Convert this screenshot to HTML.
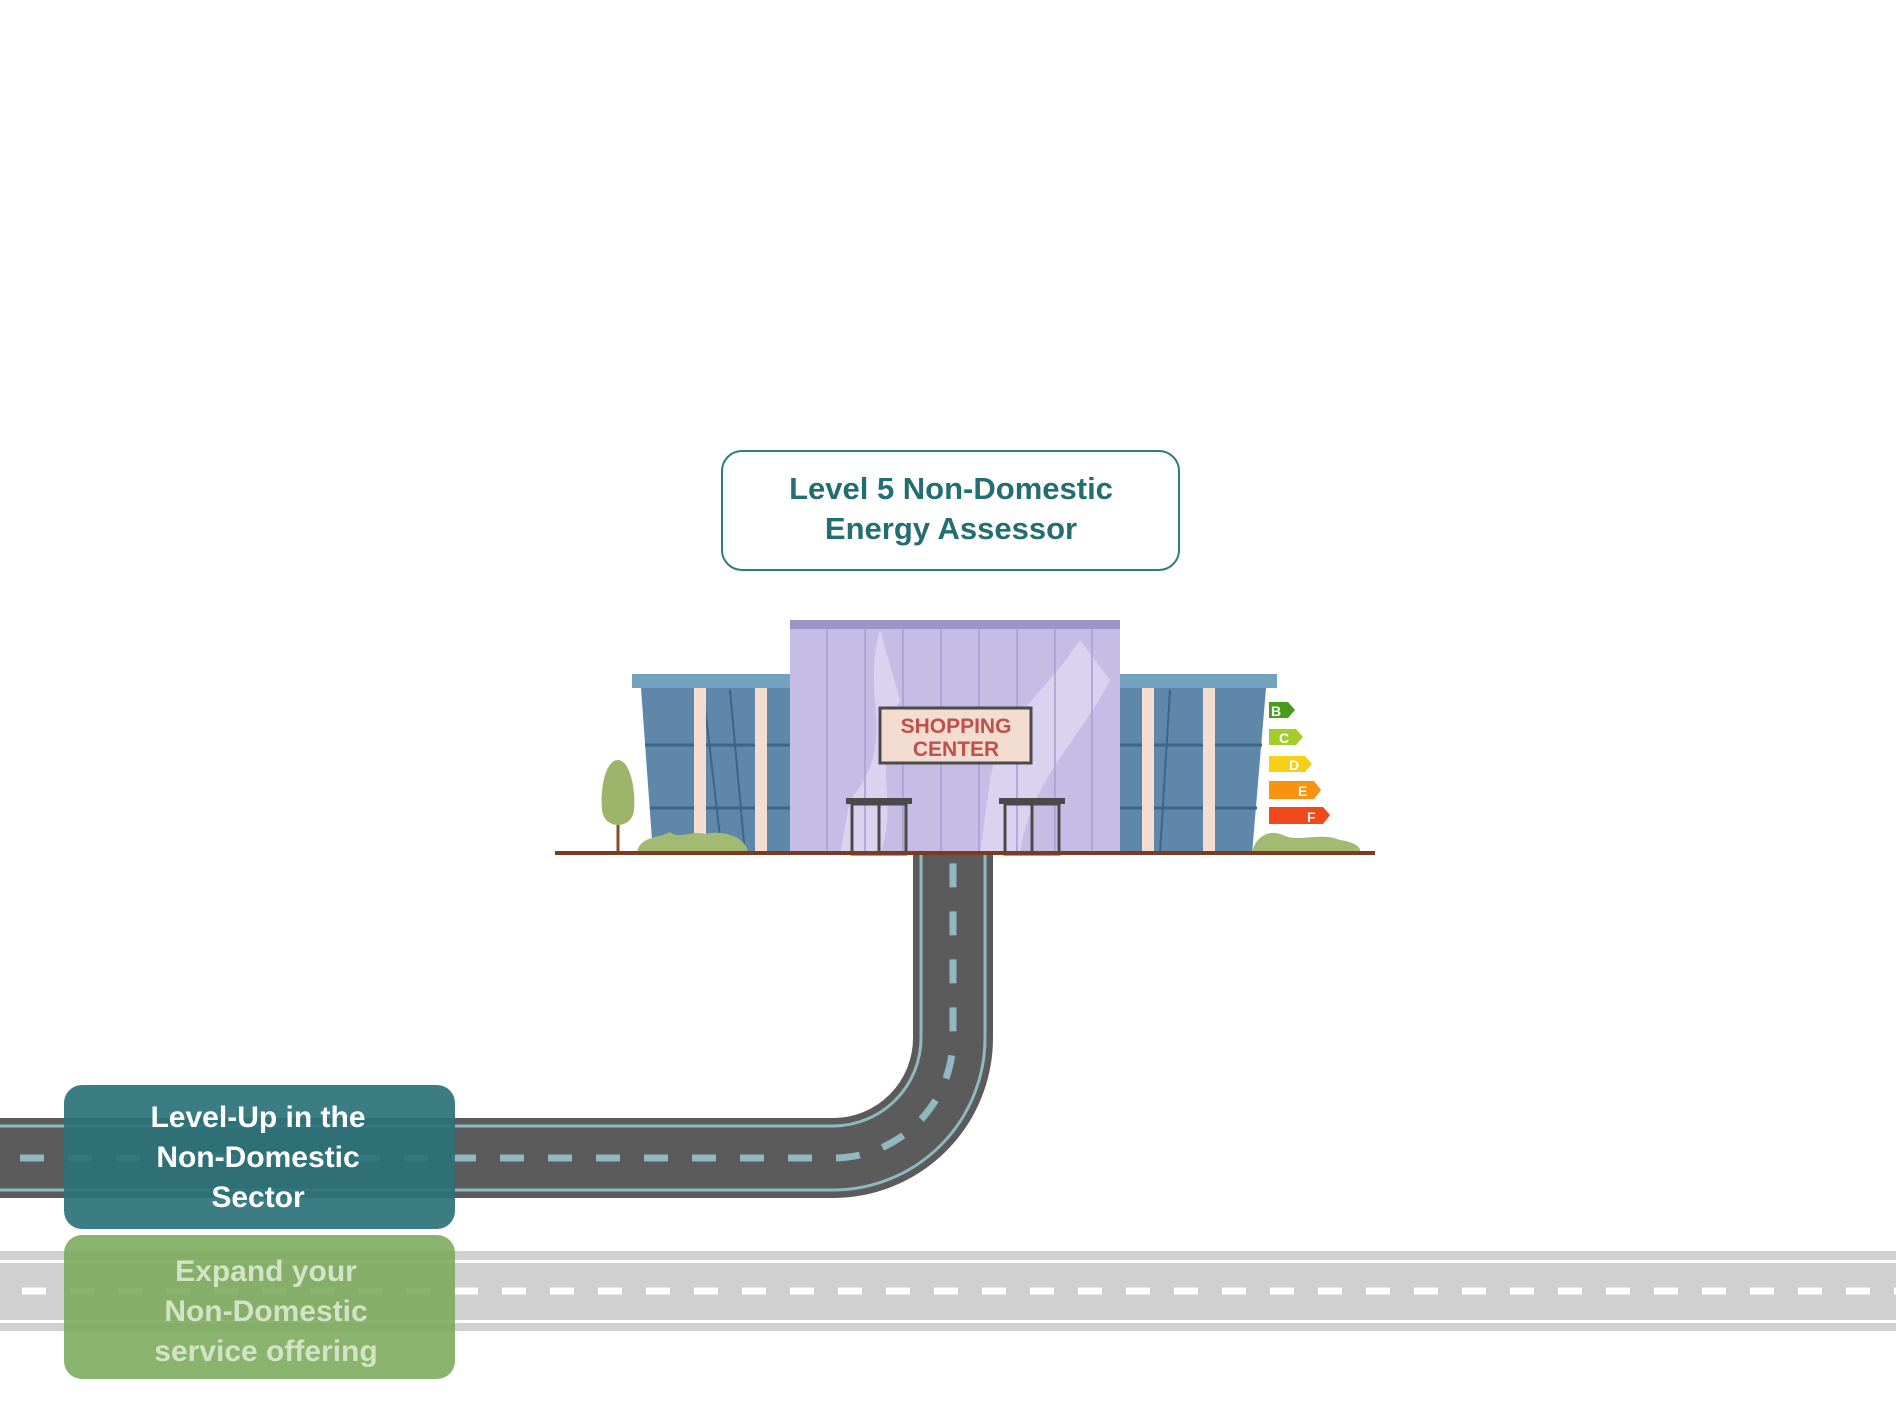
<!DOCTYPE html>
<html><head><meta charset="utf-8"><style>
html,body{margin:0;padding:0;background:#fff;}
svg{display:block;}
text{font-family:"Liberation Sans",sans-serif;font-weight:bold;}
</style></head><body>
<svg width="1896" height="1417" viewBox="0 0 1896 1417" xmlns="http://www.w3.org/2000/svg">
<rect width="1896" height="1417" fill="#fff"/>
<!-- top label -->
<rect x="722" y="451" width="457" height="119" rx="20" fill="#fff" stroke="#2d7c80" stroke-width="2"/>
<text x="951" y="499" font-size="31" fill="#236e72" text-anchor="middle">Level 5 Non-Domestic</text>
<text x="951" y="539" font-size="31" fill="#236e72" text-anchor="middle">Energy Assessor</text>

<!-- gray road -->
<rect x="0" y="1251" width="1896" height="80" fill="#d0d0d0"/>
<rect x="0" y="1260" width="1896" height="3" fill="#fff"/>
<rect x="0" y="1320" width="1896" height="3" fill="#fff"/>
<line x1="22" y1="1291" x2="1896" y2="1291" stroke="#fff" stroke-width="7" stroke-dasharray="24 24"/>

<!-- dark road -->
<path d="M0 1158 H834 A120 120 0 0 0 953 1038 V854" fill="none" stroke="#5b5b5b" stroke-width="80"/>
<path d="M0 1126 H834 A88 88 0 0 0 921 1038 V854" fill="none" stroke="#8fb8c0" stroke-width="3"/>
<path d="M0 1190 H834 A152 152 0 0 0 985 1038 V854" fill="none" stroke="#8fb8c0" stroke-width="3"/>
<path d="M0 1158 H834 A120 120 0 0 0 953 1038 V854" fill="none" stroke="#8fb8c0" stroke-width="7" stroke-dasharray="24 24" stroke-dashoffset="-20"/>

<!-- building: left wing -->
<polygon points="641,688 790,688 790,854 653,854" fill="#5e87aa"/>
<line x1="645" y1="745" x2="790" y2="745" stroke="#3f6488" stroke-width="3"/>
<line x1="650" y1="808" x2="790" y2="808" stroke="#3f6488" stroke-width="3"/>
<line x1="703" y1="690" x2="722" y2="854" stroke="#3f6488" stroke-width="2"/>
<line x1="730" y1="690" x2="745" y2="854" stroke="#3f6488" stroke-width="2"/>
<rect x="694" y="688" width="12" height="166" fill="#f3dcd0"/>
<rect x="755" y="688" width="12" height="166" fill="#f3dcd0"/>
<rect x="632" y="674" width="158" height="14" fill="#72a2be"/>
<!-- right wing -->
<polygon points="1120,688 1266,688 1252,854 1120,854" fill="#5e87aa"/>
<line x1="1120" y1="745" x2="1262" y2="745" stroke="#3f6488" stroke-width="3"/>
<line x1="1120" y1="808" x2="1257" y2="808" stroke="#3f6488" stroke-width="3"/>
<line x1="1170" y1="690" x2="1160" y2="854" stroke="#3f6488" stroke-width="2"/>
<rect x="1142" y="688" width="12" height="166" fill="#f3dcd0"/>
<rect x="1203" y="688" width="12" height="166" fill="#f3dcd0"/>
<rect x="1120" y="674" width="157" height="14" fill="#72a2be"/>
<!-- center -->
<rect x="790" y="620" width="330" height="234" fill="#c5bde6"/>
<path d="M880 630 C860 700 900 740 850 800 L840 854 L880 854 C900 800 870 760 900 700 Z" fill="#d9d3f0"/>
<path d="M1080 640 C1040 700 1000 720 990 780 L980 854 L1020 854 C1030 780 1080 740 1110 680 Z" fill="#d9d3f0"/>
<rect x="790" y="620" width="330" height="9" fill="#9b96c8"/>
<g stroke="#a59ed0" stroke-width="1.5">
<line x1="827" y1="629" x2="827" y2="854"/><line x1="865" y1="629" x2="865" y2="854"/>
<line x1="903" y1="629" x2="903" y2="854"/><line x1="941" y1="629" x2="941" y2="854"/>
<line x1="979" y1="629" x2="979" y2="854"/><line x1="1017" y1="629" x2="1017" y2="854"/>
<line x1="1055" y1="629" x2="1055" y2="854"/><line x1="1092" y1="629" x2="1092" y2="854"/>
</g>
<rect x="880" y="708" width="151" height="55" fill="#f3dcd0" stroke="#4a4a4a" stroke-width="3"/>
<text x="956" y="733" font-size="21" fill="#c0504d" text-anchor="middle">SHOPPING</text>
<text x="956" y="756" font-size="21" fill="#c0504d" text-anchor="middle">CENTER</text>
<!-- doors -->
<rect x="846" y="798" width="66" height="6" fill="#4a4a4a"/>
<rect x="852" y="804" width="54" height="50" fill="none" stroke="#4a4a4a" stroke-width="3"/>
<line x1="879" y1="804" x2="879" y2="854" stroke="#4a4a4a" stroke-width="3"/>
<rect x="999" y="798" width="66" height="6" fill="#4a4a4a"/>
<rect x="1005" y="804" width="54" height="50" fill="none" stroke="#4a4a4a" stroke-width="3"/>
<line x1="1032" y1="804" x2="1032" y2="854" stroke="#4a4a4a" stroke-width="3"/>
<!-- tree -->
<line x1="618" y1="790" x2="618" y2="852" stroke="#8a4a2a" stroke-width="3"/>
<path d="M618 760 C605 760 600 790 602 810 C604 830 632 830 634 810 C636 790 630 760 618 760 Z" fill="#9cb56a"/>
<!-- bushes -->
<path d="M637 852 C640 836 660 838 670 832 C680 840 690 830 705 834 C720 830 745 835 748 852 Z" fill="#a3ba72"/>
<path d="M1252 852 C1256 836 1270 828 1285 836 C1300 842 1320 832 1340 840 C1355 842 1362 848 1360 852 Z" fill="#a3ba72"/>
<!-- ground -->
<rect x="555" y="851" width="820" height="4" fill="#7a3b20"/>
<!-- energy labels -->
<g font-size="14" fill="#fff">
<polygon points="1269,702 1288,702 1295,710 1288,718 1269,718" fill="#4a9a1c"/><text x="1271" y="716">B</text>
<polygon points="1269,729 1296,729 1303,737 1296,745 1269,745" fill="#a5cc2a"/><text x="1279" y="743">C</text>
<polygon points="1269,756 1305,756 1312,764 1305,772 1269,772" fill="#f5cf18"/><text x="1289" y="770">D</text>
<polygon points="1269,781 1314,781 1321,790 1314,799 1269,799" fill="#f7930f"/><text x="1298" y="796">E</text>
<polygon points="1269,807 1323,807 1330,815 1323,824 1269,824" fill="#f04a1c"/><text x="1307" y="822">F</text>
</g>

<!-- teal box -->
<rect x="64" y="1085" width="391" height="144" rx="18" fill="#2a7278" fill-opacity="0.92"/>
<g font-size="30" fill="#fff" text-anchor="middle">
<text x="258" y="1127">Level-Up in the</text>
<text x="258" y="1167">Non-Domestic</text>
<text x="258" y="1207">Sector</text>
</g>
<!-- green box -->
<rect x="64" y="1235" width="391" height="144" rx="18" fill="#7aa85a" fill-opacity="0.88"/>
<g font-size="30" fill="#d3e3c5" text-anchor="middle">
<text x="266" y="1281">Expand your</text>
<text x="266" y="1321">Non-Domestic</text>
<text x="266" y="1361">service offering</text>
</g>
</svg>
</body></html>
